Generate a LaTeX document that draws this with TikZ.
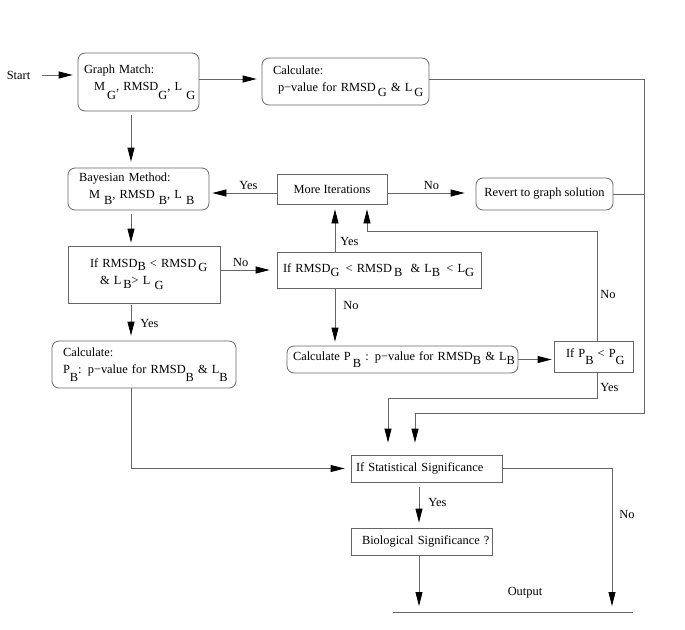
\documentclass[tikz,border=0pt]{standalone}
\usepackage{fontspec}
\setmainfont{Liberation Serif}
\usetikzlibrary{arrows.meta, calc}
\newcommand{\lowr}[2][4pt]{\raisebox{-#1}{#2}}

\begin{document}
\begin{tikzpicture}[x=1pt, y=-1pt,
    every node/.style={font=\fontsize{12.4}{17}\selectfont},
    box/.style={rectangle, draw=black!60, line width=0.8pt, inner ysep=0pt, align=left},
    rbox/.style={box, rounded corners=7pt},
    line/.style={draw=black!60, line width=0.8pt},
    arrow/.style={line, -{Triangle[length=14pt, width=7pt, color=black]}, shorten >=5pt},
    lbl/.style={inner sep=3pt}
]
    \useasboundingbox (0,0) rectangle (685,629);

    % Nodes
    \node (start) at (18.5,75) {Start};
    \node[rbox, text width=109pt, inner xsep=6pt, minimum height=58pt] (gmatch) at (138.5,82) {Graph Match:\\\mbox{\hspace*{10pt}M\lowr[9pt]{\,G}, RMSD\lowr[9pt]{G}, L\lowr[9pt]{\ G}}};
    \node[rbox, text width=145pt, inner xsep=11pt, minimum height=47pt] (calcG) at (345.5,81.5) {Calculate:\\\mbox{\hspace*{5pt}p−value for RMSD\lowr[5pt]{\,G} \&\ L\lowr[5pt]{\,G}}};
    \node[rbox, text width=119pt, inner xsep=11pt, minimum height=42pt] (bayes) at (138.5,189) {Bayesian Method:\\\mbox{\hspace*{10pt}M\lowr[6pt]{\ B}, RMSD\lowr[6pt]{\ B}, L\lowr[6pt]{\ B}}};
    \node[box, minimum width=110pt, minimum height=30pt, align=center] (moreit) at (332,189) {More Iterations};
    \node[rbox, minimum width=137pt, minimum height=32pt, align=center] (revert) at (544.5,194) {Revert to graph solution};
    \node[box, text width=108pt, inner xsep=22pt, minimum height=57pt] (ifB) at (144,274.5) {\mbox{If RMSD\lowr[3pt]{B} < RMSD\lowr[4pt]{\,G}}\\\mbox{\hspace*{10pt}\&\ L\lowr[4pt]{\,B}> L\lowr[5pt]{\ G}}};
    \node[box, text width=192pt, inner xsep=6pt, minimum height=36pt] (ifG) at (379,270) {\mbox{If RMSD\lowr{G} \,< RMSD\lowr{\,B} \ \& L\lowr{B} \,< L\lowr{G}}};
    \node[rbox, text width=162pt, inner xsep=11pt, minimum height=47pt] (calcBl) at (144,364.5) {Calculate:\\\mbox{P\lowr[8pt]{B}: p−value for RMSD\lowr[8pt]{B} \& L\lowr[8pt]{B}}};
    \node[rbox, text width=219pt, inner xsep=6pt, minimum height=27pt] (calcBm) at (402.5,359.5) {\mbox{Calculate P\lowr[7pt]{\,B} : p−value for RMSD\lowr{B} \& L\lowr{B}}};
    \node[box, text width=55pt, inner xsep=12pt, minimum height=31pt] (ifP) at (593.5,356.5) {\mbox{If P\lowr[7pt]{B} < P\lowr[7pt]{G}}};
    \node[box, text width=141pt, inner xsep=5pt, minimum height=27pt] (stat) at (426.5,468.5) {\mbox{If Statistical Significance}};
    \node[box, text width=119pt, inner xsep=11pt, minimum height=27pt] (bio) at (421.5,541.5) {\mbox{Biological Significance ?}};
    \node (output) at (525,593) {Output};

    % Bends and columns
    \coordinate (colA) at (131,0);
    \coordinate (colB) at (335,0);
    \coordinate (colC) at (367,0);
    \coordinate (colF) at (388,0);
    \coordinate (colG) at (415,0);
    \coordinate (colH) at (419,0);
    \coordinate (colI) at (612,0);
    \coordinate (loop) at (597,231);
    \coordinate (yesbend) at (597,398);
    \coordinate (rail) at (644,413);
    \coordinate (outL) at (393,612);
    \coordinate (outR) at (633,612);

    % Paths
    \draw[arrow, shorten <=8pt] (start.east) -- (start -| gmatch.west);
    \draw[arrow] ([yshift=3pt]gmatch.east) -- ([yshift=3pt]gmatch.east -| calcG.west);
    \draw[arrow, shorten <=4pt, shorten >=6pt] (gmatch.south -| colA) -- (bayes.north -| colA);
    \draw[arrow, shorten <=4pt, shorten >=3pt] (bayes.south -| colA) -- (ifB.north -| colA);
    \draw[arrow, shorten <=2pt] (ifB.south -| colA) -- node[lbl, pos=0.55, right, xshift=6pt] {Yes} (calcBl.north -| colA);
    \draw[arrow, shorten >=7pt] (ifB.east |- ifG) -- node[lbl, pos=0.36, above] {No} (ifG.west);
    \draw[arrow] (ifG.north -| colB) -- node[lbl, pos=0.22, right, xshift=2pt] {Yes} (moreit.south -| colB);
    \draw[arrow, shorten >=4pt] (ifG.south -| colB) -- node[lbl, pos=0.3, right, xshift=5pt] {No} (calcBm.north -| colB);
    \draw[arrow, shorten >=2pt] (calcBm.east) -- (calcBm.east -| ifP.west);
    \draw[arrow] (ifP.north -| loop) -- node[lbl, pos=0.42, right] {No} (loop) -| (moreit.south -| colC);
    \draw[arrow, shorten >=12pt] (ifP.south -| yesbend) -- node[lbl, pos=0.6, right] {Yes} (yesbend) -| (stat.north -| colF);
    \draw[arrow, shorten >=12pt] ([yshift=2.5pt]calcG.east) -| (rail) -| (stat.north -| colG);
    \draw[line] (revert.east) -- (revert.east -| rail);
    \draw[arrow, shorten >=3pt] ([yshift=-4pt]moreit.west) -- node[lbl, pos=0.42, above] {Yes} ([yshift=-4pt]moreit.west -| bayes.east);
    \draw[arrow, shorten >=11pt] ([yshift=-4pt]moreit.east) -- node[lbl, midway, above] {No} ([yshift=-4pt]moreit.east -| revert.west);
    \draw[arrow, shorten >=6pt] (calcBl.south -| colA) |- (stat.west);
    \draw[arrow, shorten >=6pt] (stat.east) -| node[lbl, pos=0.66, right, xshift=4pt] {No} (colI |- outL);
    \draw[arrow, shorten <=5pt] (stat.south -| colH) -- node[lbl, pos=0.45, right, xshift=6pt] {Yes} (bio.north -| colH);
    \draw[arrow, shorten >=6pt] (bio.south -| colH) -- (colH |- outL);
    \draw[line] (outL) -- (outR);
\end{tikzpicture}
\end{document}
